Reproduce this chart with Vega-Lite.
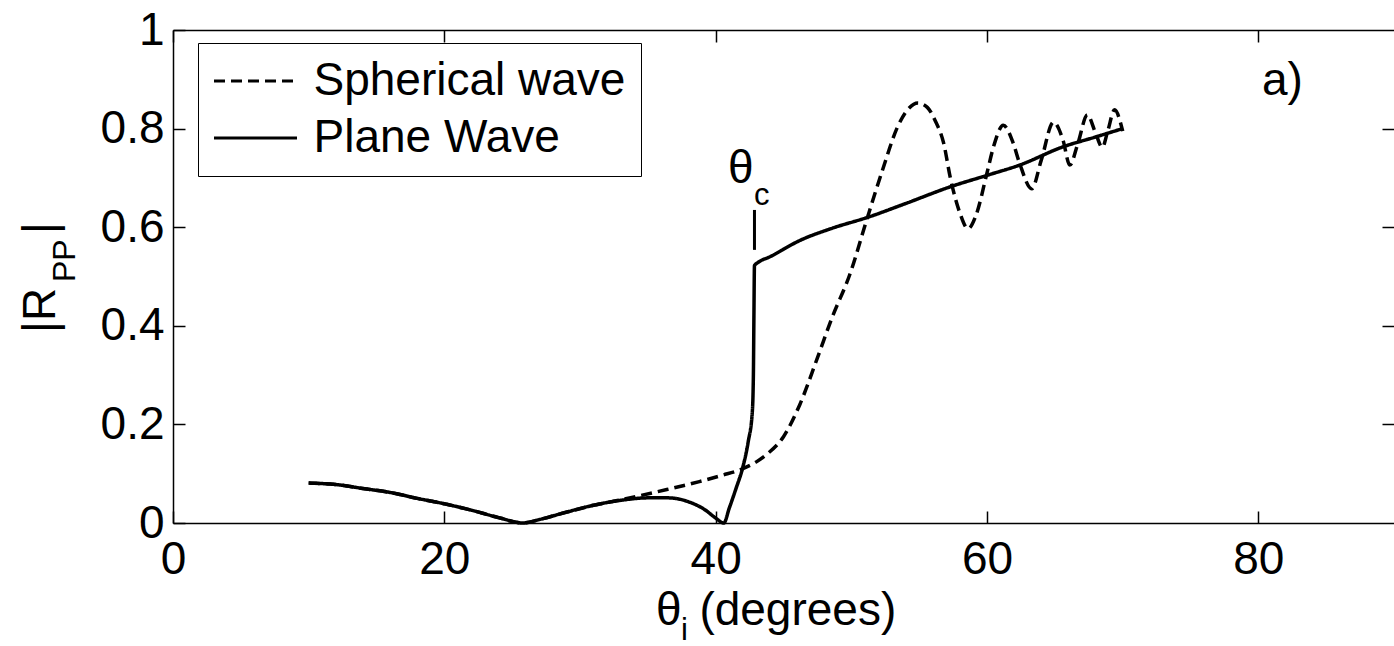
{
  "$schema": "https://vega.github.io/schema/vega-lite/v6.json",
  "width": 1221,
  "height": 493,
  "autosize": {"type": "none"},
  "padding": {"left": 173, "top": 30, "right": 0, "bottom": 123},
  "background": "white",
  "config": {
    "view": {"stroke": null},
    "font": "Liberation Sans",
    "axis": {
      "grid": false,
      "title": null,
      "labelFont": "Liberation Sans",
      "labelFontSize": 46,
      "labelColor": "black",
      "labelFlush": false,
      "labelOverlap": false,
      "tickColor": "black",
      "tickWidth": 1.5,
      "tickSize": -12,
      "domainColor": "black",
      "domainWidth": 1.5
    }
  },
  "datasets": {
    "curves": [
      {"theta": 10, "R": 0.081, "series": "Spherical wave"},
      {"theta": 12, "R": 0.078, "series": "Spherical wave"},
      {"theta": 14, "R": 0.070, "series": "Spherical wave"},
      {"theta": 16, "R": 0.062, "series": "Spherical wave"},
      {"theta": 18, "R": 0.050, "series": "Spherical wave"},
      {"theta": 20, "R": 0.039, "series": "Spherical wave"},
      {"theta": 22, "R": 0.026, "series": "Spherical wave"},
      {"theta": 24, "R": 0.011, "series": "Spherical wave"},
      {"theta": 25.8, "R": 0.0, "series": "Spherical wave"},
      {"theta": 27, "R": 0.007, "series": "Spherical wave"},
      {"theta": 29, "R": 0.022, "series": "Spherical wave"},
      {"theta": 31, "R": 0.036, "series": "Spherical wave"},
      {"theta": 33, "R": 0.047, "series": "Spherical wave"},
      {"theta": 34.5, "R": 0.056, "series": "Spherical wave"},
      {"theta": 36.4, "R": 0.068, "series": "Spherical wave"},
      {"theta": 38.8, "R": 0.084, "series": "Spherical wave"},
      {"theta": 40.5, "R": 0.097, "series": "Spherical wave"},
      {"theta": 41.8, "R": 0.108, "series": "Spherical wave"},
      {"theta": 43, "R": 0.124, "series": "Spherical wave"},
      {"theta": 43.8, "R": 0.140, "series": "Spherical wave"},
      {"theta": 45, "R": 0.175, "series": "Spherical wave"},
      {"theta": 46.2, "R": 0.240, "series": "Spherical wave"},
      {"theta": 47.5, "R": 0.335, "series": "Spherical wave"},
      {"theta": 48.6, "R": 0.418, "series": "Spherical wave"},
      {"theta": 49.9, "R": 0.505, "series": "Spherical wave"},
      {"theta": 51.1, "R": 0.612, "series": "Spherical wave"},
      {"theta": 52.3, "R": 0.716, "series": "Spherical wave"},
      {"theta": 53.4, "R": 0.803, "series": "Spherical wave"},
      {"theta": 54.2, "R": 0.840, "series": "Spherical wave"},
      {"theta": 54.9, "R": 0.852, "series": "Spherical wave"},
      {"theta": 55.6, "R": 0.843, "series": "Spherical wave"},
      {"theta": 56.2, "R": 0.815, "series": "Spherical wave"},
      {"theta": 56.8, "R": 0.771, "series": "Spherical wave"},
      {"theta": 57.3, "R": 0.700, "series": "Spherical wave"},
      {"theta": 58.0, "R": 0.629, "series": "Spherical wave"},
      {"theta": 58.6, "R": 0.597, "series": "Spherical wave"},
      {"theta": 59.2, "R": 0.625, "series": "Spherical wave"},
      {"theta": 60.0, "R": 0.710, "series": "Spherical wave"},
      {"theta": 60.5, "R": 0.765, "series": "Spherical wave"},
      {"theta": 61.2, "R": 0.807, "series": "Spherical wave"},
      {"theta": 61.9, "R": 0.773, "series": "Spherical wave"},
      {"theta": 62.4, "R": 0.730, "series": "Spherical wave"},
      {"theta": 63.3, "R": 0.678, "series": "Spherical wave"},
      {"theta": 64.0, "R": 0.736, "series": "Spherical wave"},
      {"theta": 64.9, "R": 0.813, "series": "Spherical wave"},
      {"theta": 65.6, "R": 0.777, "series": "Spherical wave"},
      {"theta": 66.1, "R": 0.726, "series": "Spherical wave"},
      {"theta": 66.7, "R": 0.770, "series": "Spherical wave"},
      {"theta": 67.4, "R": 0.828, "series": "Spherical wave"},
      {"theta": 67.95, "R": 0.795, "series": "Spherical wave"},
      {"theta": 68.5, "R": 0.762, "series": "Spherical wave"},
      {"theta": 68.9, "R": 0.795, "series": "Spherical wave"},
      {"theta": 69.4, "R": 0.838, "series": "Spherical wave"},
      {"theta": 70.0, "R": 0.795, "series": "Spherical wave"},
      {"theta": 10, "R": 0.081, "series": "Plane Wave"},
      {"theta": 12, "R": 0.078, "series": "Plane Wave"},
      {"theta": 14, "R": 0.070, "series": "Plane Wave"},
      {"theta": 16, "R": 0.062, "series": "Plane Wave"},
      {"theta": 18, "R": 0.050, "series": "Plane Wave"},
      {"theta": 20, "R": 0.039, "series": "Plane Wave"},
      {"theta": 22, "R": 0.026, "series": "Plane Wave"},
      {"theta": 24, "R": 0.011, "series": "Plane Wave"},
      {"theta": 25.8, "R": 0.0, "series": "Plane Wave"},
      {"theta": 27, "R": 0.007, "series": "Plane Wave"},
      {"theta": 29, "R": 0.022, "series": "Plane Wave"},
      {"theta": 31, "R": 0.036, "series": "Plane Wave"},
      {"theta": 33, "R": 0.046, "series": "Plane Wave"},
      {"theta": 35, "R": 0.051, "series": "Plane Wave"},
      {"theta": 36.5, "R": 0.051, "series": "Plane Wave"},
      {"theta": 38, "R": 0.043, "series": "Plane Wave"},
      {"theta": 39.2, "R": 0.027, "series": "Plane Wave"},
      {"theta": 40.0, "R": 0.010, "series": "Plane Wave"},
      {"theta": 40.6, "R": 0.0, "series": "Plane Wave"},
      {"theta": 41.0, "R": 0.030, "series": "Plane Wave"},
      {"theta": 41.5, "R": 0.070, "series": "Plane Wave"},
      {"theta": 42.0, "R": 0.113, "series": "Plane Wave"},
      {"theta": 42.4, "R": 0.165, "series": "Plane Wave"},
      {"theta": 42.7, "R": 0.225, "series": "Plane Wave"},
      {"theta": 42.78, "R": 0.300, "series": "Plane Wave"},
      {"theta": 42.82, "R": 0.420, "series": "Plane Wave"},
      {"theta": 42.86, "R": 0.522, "series": "Plane Wave"},
      {"theta": 43.1, "R": 0.528, "series": "Plane Wave"},
      {"theta": 44, "R": 0.540, "series": "Plane Wave"},
      {"theta": 46.2, "R": 0.573, "series": "Plane Wave"},
      {"theta": 48.6, "R": 0.598, "series": "Plane Wave"},
      {"theta": 51.2, "R": 0.620, "series": "Plane Wave"},
      {"theta": 54, "R": 0.648, "series": "Plane Wave"},
      {"theta": 57.3, "R": 0.682, "series": "Plane Wave"},
      {"theta": 60.1, "R": 0.706, "series": "Plane Wave"},
      {"theta": 62.4, "R": 0.726, "series": "Plane Wave"},
      {"theta": 65.6, "R": 0.763, "series": "Plane Wave"},
      {"theta": 68, "R": 0.783, "series": "Plane Wave"},
      {"theta": 70, "R": 0.800, "series": "Plane Wave"}
    ],
    "marker": [
      {"theta": 42.86, "R": 0.554, "R2": 0.635}
    ],
    "mainText": [
      {"theta": 80.27, "R": 0.868, "label": "a)"},
      {"theta": 40.9, "R": 0.6897, "label": "θ"},
      {"theta": 35.6, "R": -0.2069, "label": "θ"},
      {"theta": 38.8, "R": -0.2069, "label": "(degrees)"}
    ],
    "subText": [
      {"theta": 42.82, "R": 0.645, "label": "c"},
      {"theta": 37.44, "R": -0.2373, "label": "i"}
    ],
    "rotText": [
      {"theta": -8.7, "R": 0.3854, "label": "|R"},
      {"theta": -8.7, "R": 0.586, "label": "|"}
    ],
    "rotSubText": [
      {"theta": -7.22, "R": 0.4888, "label": "PP"}
    ]
  },
  "resolve": {"axis": {"x": "independent", "y": "independent"}},
  "layer": [
    {
      "data": {"name": "curves"},
      "mark": {"type": "line", "color": "black", "strokeWidth": 3.5, "interpolate": "monotone", "clip": false},
      "encoding": {
        "x": {
          "field": "theta", "type": "quantitative",
          "scale": {"domain": [0, 90], "nice": false, "zero": false},
          "axis": {"orient": "bottom", "values": [0, 20, 40, 60, 80], "labelPadding": 26}
        },
        "y": {
          "field": "R", "type": "quantitative",
          "scale": {"domain": [0, 1], "nice": false},
          "axis": {"orient": "left", "values": [0, 0.2, 0.4, 0.6, 0.8, 1], "format": "~g", "labelPadding": 21}
        },
        "strokeDash": {
          "field": "series", "type": "nominal",
          "scale": {"domain": ["Spherical wave", "Plane Wave"], "range": [[11, 6], [1, 0]]},
          "legend": {
            "title": null,
            "orient": "none",
            "legendX": 25,
            "legendY": 13,
            "padding": 15,
            "strokeColor": "black",
            "fillColor": "white",
            "symbolType": "M-2,0H2",
            "symbolSize": 1722,
            "symbolStrokeWidth": 3,
            "symbolStrokeColor": "black",
            "symbolOffset": 19.5,
            "labelOffset": 35,
            "labelFont": "Liberation Sans",
            "labelFontSize": 46,
            "labelColor": "black",
            "labelLimit": 1000,
            "rowPadding": 11
          }
        }
      }
    },
    {
      "data": {"name": "marker"},
      "mark": {"type": "rule", "color": "black", "strokeWidth": 3, "clip": false},
      "encoding": {
        "x": {
          "field": "theta", "type": "quantitative",
          "axis": {"orient": "top", "values": [0, 20, 40, 60, 80], "labels": false}
        },
        "y": {
          "field": "R", "type": "quantitative",
          "axis": {"orient": "right", "values": [0.2, 0.4, 0.6, 0.8], "labels": false, "domain": false}
        },
        "y2": {"field": "R2"}
      }
    },
    {
      "data": {"name": "mainText"},
      "mark": {"type": "text", "font": "Liberation Sans", "fontSize": 46, "align": "left", "baseline": "alphabetic", "color": "black", "clip": false},
      "encoding": {
        "x": {"field": "theta", "type": "quantitative", "axis": null},
        "y": {"field": "R", "type": "quantitative", "axis": null},
        "text": {"field": "label"}
      }
    },
    {
      "data": {"name": "subText"},
      "mark": {"type": "text", "font": "Liberation Sans", "fontSize": 31, "align": "left", "baseline": "alphabetic", "color": "black", "clip": false},
      "encoding": {
        "x": {"field": "theta", "type": "quantitative", "axis": null},
        "y": {"field": "R", "type": "quantitative", "axis": null},
        "text": {"field": "label"}
      }
    },
    {
      "data": {"name": "rotText"},
      "mark": {"type": "text", "font": "Liberation Sans", "fontSize": 46, "angle": 270, "align": "left", "baseline": "alphabetic", "color": "black", "clip": false},
      "encoding": {
        "x": {"field": "theta", "type": "quantitative", "axis": null},
        "y": {"field": "R", "type": "quantitative", "axis": null},
        "text": {"field": "label"}
      }
    },
    {
      "data": {"name": "rotSubText"},
      "mark": {"type": "text", "font": "Liberation Sans", "fontSize": 32, "angle": 270, "align": "left", "baseline": "alphabetic", "color": "black", "clip": false},
      "encoding": {
        "x": {"field": "theta", "type": "quantitative", "axis": null},
        "y": {"field": "R", "type": "quantitative", "axis": null},
        "text": {"field": "label"}
      }
    }
  ]
}
